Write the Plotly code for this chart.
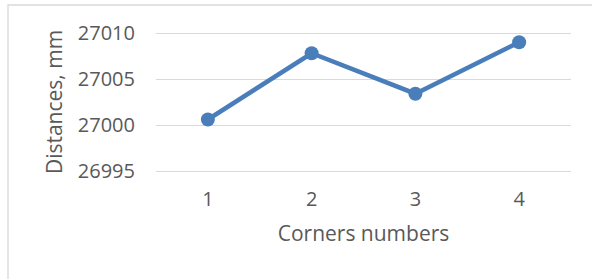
import plotly.graph_objects as go

corners = ["1", "2", "3", "4"]
distances = [27000.6, 27007.8, 27003.4, 27009.0]
y_ticks = [26995, 27000, 27005, 27010]

W, H = 592, 279
pad = 3  # px of extra room so the outer gridlines are drawn
L, R, T, B = 156, 21, 33 - pad, 108 - pad
pw, ph = W - L - R, H - T - B
upp = 15 / (ph - 2 * pad)  # data units per pixel

fig = go.Figure()
fig.add_trace(go.Scatter(
    x=[1, 2, 3, 4], y=distances, mode="lines+markers",
    line=dict(color="#4a7ebb", width=4.5),
    marker=dict(color="#4a7ebb", size=14),
    showlegend=False, hoverinfo="skip", cliponaxis=False))

font = dict(family="Open Sans, Lato, sans-serif", color="#595959")

fig.update_layout(
    width=W, height=H,
    margin=dict(l=L, r=R, t=T, b=B, autoexpand=False),
    paper_bgcolor="white", plot_bgcolor="white",
    font=dict(family="Open Sans, Lato, sans-serif", size=20, color="#595959"),
    xaxis=dict(range=[0.5, 4.5], tickvals=[1, 2, 3, 4], ticktext=corners,
               showgrid=False, zeroline=False, showline=False,
               ticks="", ticklabelstandoff=14 - pad,
               tickfont=dict(size=20, **font),
               title=dict(text="Corners numbers", font=dict(size=21, **font), standoff=15),
               fixedrange=True),
    yaxis=dict(range=[26995 - pad * upp, 27010 + pad * upp], tickvals=y_ticks,
               ticktext=[str(v) for v in y_ticks],
               showgrid=True, gridcolor="#d9d9d9", gridwidth=1.3, zeroline=False, showline=False,
               ticks="", ticklabelstandoff=20,
               tickfont=dict(size=20, **font),
               title=dict(text="Distances, mm", font=dict(size=21, **font), standoff=9),
               fixedrange=True),
    shapes=[dict(type="rect", xref="paper", yref="paper",
                 x0=(8 - L) / pw, x1=(W + 5 - L) / pw,
                 y0=-(H + 5 - T - ph) / ph, y1=1 + (T - 5) / ph,
                 line=dict(color="#d9d9d9", width=1.3), fillcolor="rgba(0,0,0,0)", layer="below")],
)
fig.write_html("out.html", config={"displayModeBar": False},
               post_script="document.body.style.margin='0';")
